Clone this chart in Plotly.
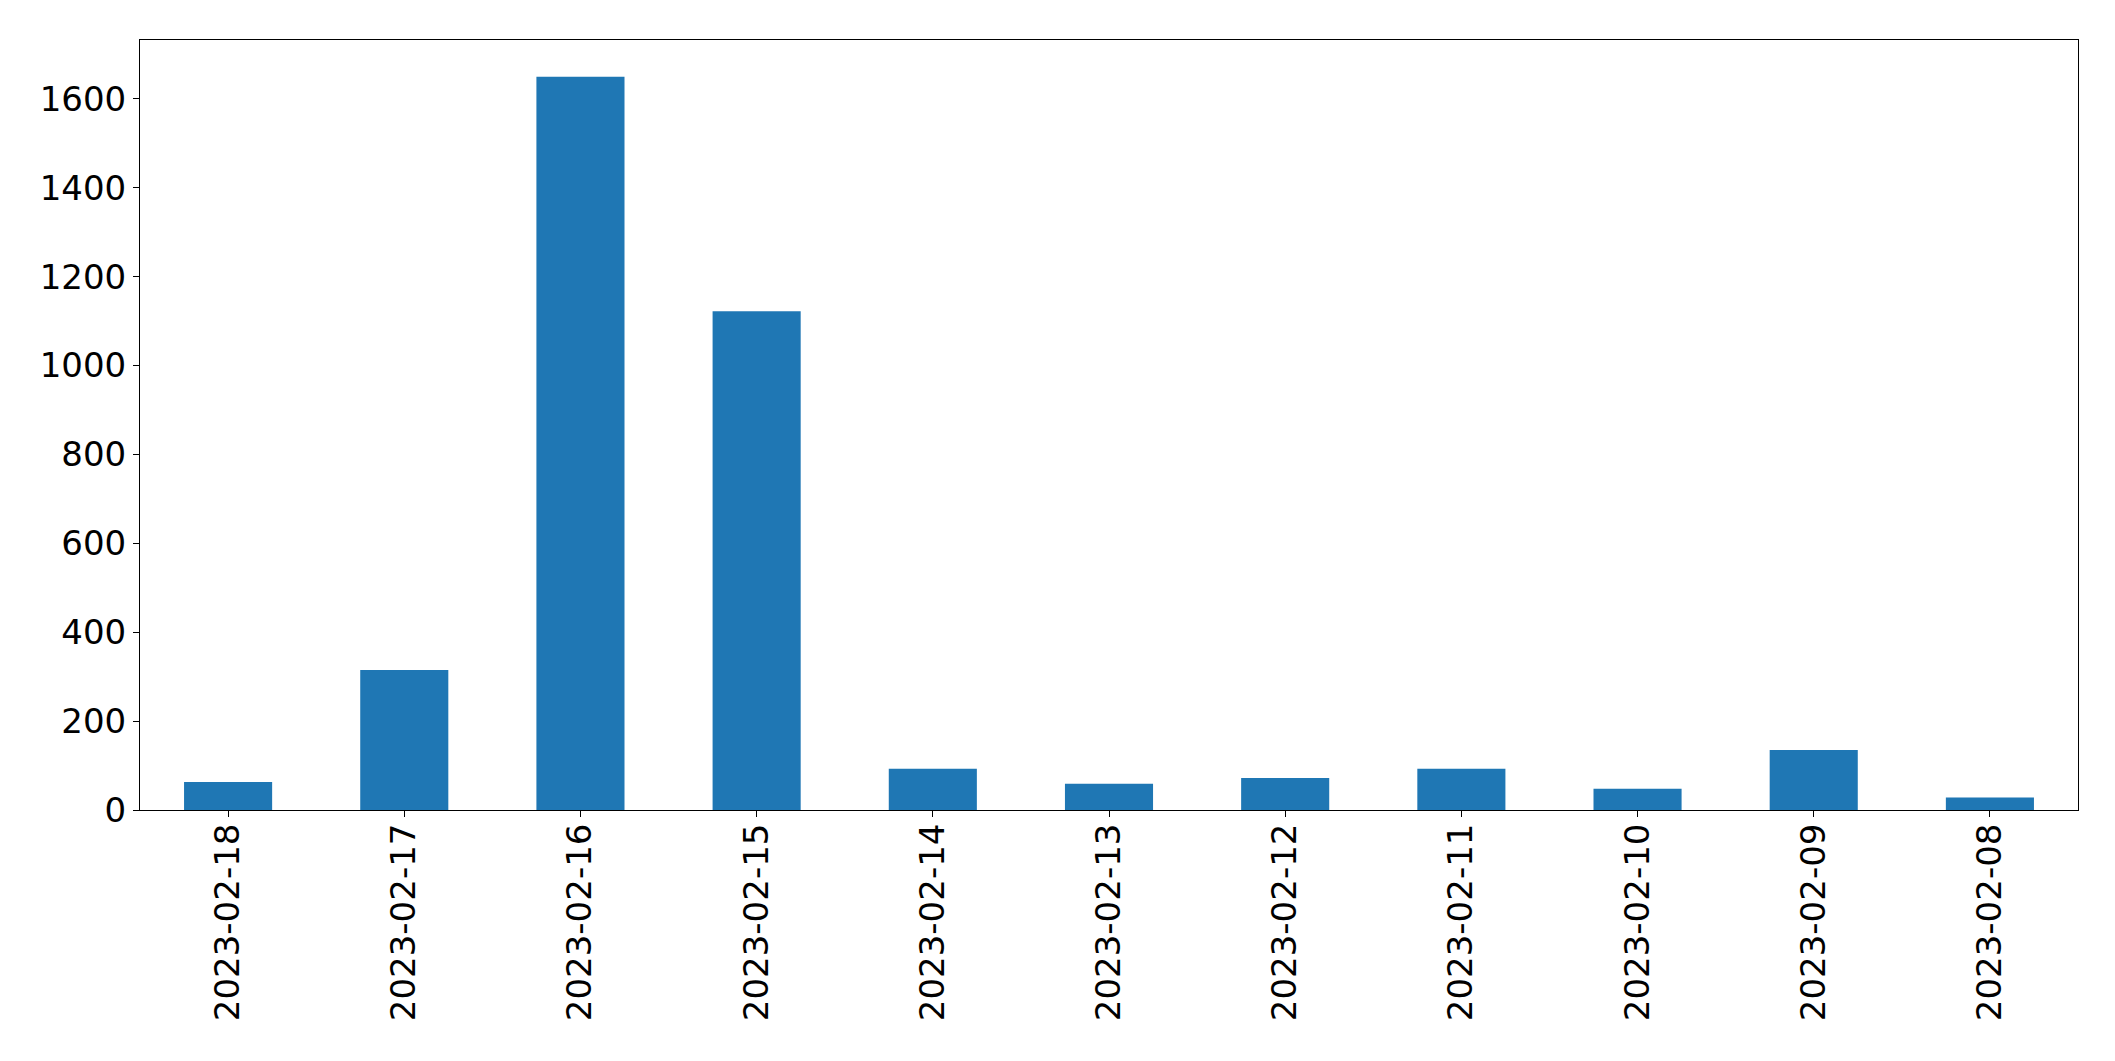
import plotly.graph_objects as go

dates = ["2023-02-18", "2023-02-17", "2023-02-16", "2023-02-15", "2023-02-14",
         "2023-02-13", "2023-02-12", "2023-02-11", "2023-02-10", "2023-02-09",
         "2023-02-08"]
counts = [63, 315, 1650, 1122, 93, 59, 72, 93, 48, 135, 28]
y_ticks = [0, 200, 400, 600, 800, 1000, 1200, 1400, 1600]

fig = go.Figure(go.Bar(x=dates, y=counts, marker=dict(color="#1f77b4", line=dict(width=0))))

font = dict(family="DejaVu Sans", size=34, color="black")
fig.update_layout(
    width=2115, height=1061,
    paper_bgcolor="white", plot_bgcolor="white",
    margin=dict(l=132, r=45, t=32, b=259),
    bargap=0.5,
    showlegend=False,
    font=font,
)
fig.update_xaxes(
    type="category", range=[-0.5, len(dates) - 0.5],
    tickangle=-90, ticks="outside", ticklen=6, tickcolor="black",
    ticklabelstandoff=-7,
    showline=True, linecolor="black", linewidth=1, mirror=True,
    showgrid=False, zeroline=False, tickfont=font,
)
fig.update_yaxes(
    range=[0, max(counts) * 1.05], tickvals=y_ticks,
    ticks="outside", ticklen=6, tickcolor="black",
    showline=True, linecolor="black", linewidth=1, mirror=True,
    showgrid=False, zeroline=False, tickfont=font,
)

fig.write_html("out.html")
